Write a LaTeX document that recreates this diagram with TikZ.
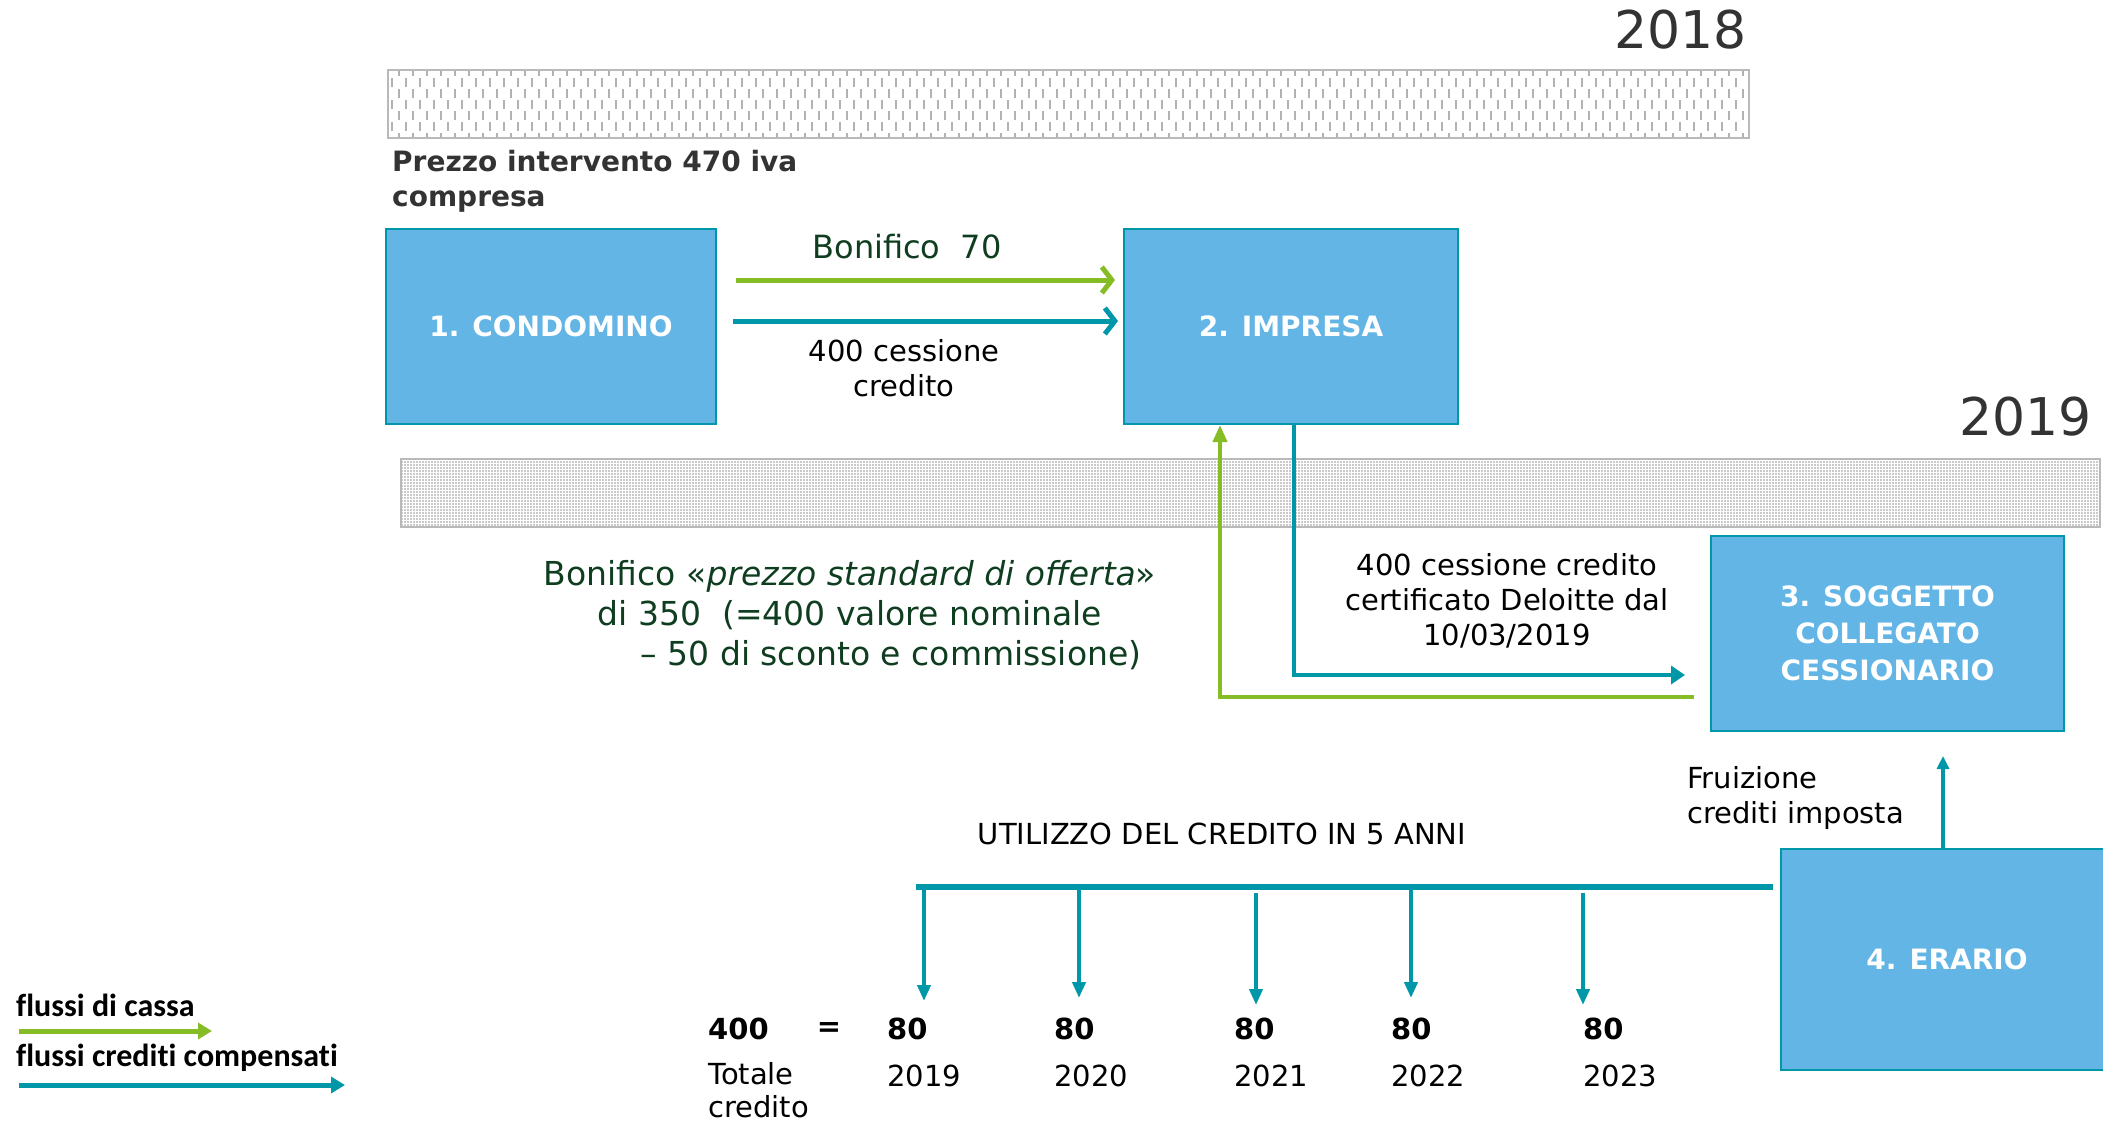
\documentclass[tikz,border=0pt]{standalone}
\usepackage{fontspec}
\setmainfont{DejaVu Sans}
\newfontfamily\legendfont[Ligatures=NoCommon]{Carlito}
\usetikzlibrary{arrows.meta,patterns.meta}

\definecolor{boxblue}{HTML}{62B5E5}
\definecolor{boxline}{HTML}{0097A9}
\definecolor{cashgreen}{HTML}{86BC25}
\definecolor{credteal}{HTML}{0097A9}
\definecolor{darkgreen}{HTML}{0F3D20}
\definecolor{yeargray}{HTML}{333333}

\newcommand\fsz[2]{\fontsize{#1}{#2}\selectfont}

\pgfdeclarepattern{
  name=vticks, type=uncolored,
  bottom left={\pgfpoint{-1pt}{-1pt}}, top right={\pgfpoint{15pt}{23pt}},
  tile size={\pgfpoint{14pt}{22pt}},
  code={
    \pgfsetlinewidth{1.3pt}
    \pgfpathmoveto{\pgfpoint{0pt}{1pt}}\pgfpathlineto{\pgfpoint{0pt}{10pt}}
    \pgfpathmoveto{\pgfpoint{7pt}{12pt}}\pgfpathlineto{\pgfpoint{7pt}{21pt}}
    \pgfusepath{stroke}
  }
}

\tikzset{
  party/.style={draw=boxline, line width=2pt, fill=boxblue, text=white, align=center,
    font=\fsz{28}{37}\bfseries, minimum width=330pt, minimum height=195pt, inner sep=0pt},
  note/.style={font=\fsz{29}{35}, align=center, inner sep=0pt},
  greennote/.style={note, text=darkgreen, font=\fsz{32}{39}},
  year/.style={font=\fsz{52}{60}, text=yeargray, inner sep=0pt},
  amount/.style={font=\fsz{29}{35}\bfseries, inner sep=0pt},
  legend/.style={font=\legendfont\fsz{32}{36}\bfseries, inner sep=0pt},
  band/.style={draw=gray!55, line width=2pt},
  cash/.style={cashgreen, line width=5pt, -{Straight Barb[length=10pt,width=26pt]}},
  credit/.style={credteal, line width=5pt, -{Straight Barb[length=10pt,width=26pt]}},
  cashback/.style={cashgreen, line width=4pt, -{Triangle[length=17pt,width=14pt]}},
  creditback/.style={credteal, line width=4.5pt, -{Triangle[length=14pt,width=18pt]}},
  creditup/.style={credteal, line width=4pt, -{Triangle[length=13pt,width=12pt]}},
  tline/.style={credteal, line width=6pt},
  yearflow/.style={credteal, line width=4pt, -{Triangle[length=16pt,width=13pt]}},
  legcash/.style={cashgreen, line width=5pt, -{Triangle[length=14pt,width=16pt]}},
  legcredit/.style={credteal, line width=5pt, -{Triangle[length=14pt,width=16pt]}}
}

\begin{document}
\begin{tikzpicture}[x=1pt,y=-1pt]
  \useasboundingbox (0,0) rectangle (2103,1122);

  % year bands
  \draw[band, pattern=vticks, pattern color=gray!60] (388,70) rectangle (1749,138);
  \node[year, anchor=east] (y2018) at (1747,30) {2018};
  \draw[band, pattern={Dots[distance=3pt,radius=0.8pt]}, pattern color=gray!85]
    (401,459) rectangle (2100,527);
  \node[year, anchor=east] (y2019) at (2092,417) {2019};

  % parties
  \node[party] (condo) at (551,326.5) {1. CONDOMINO};
  \node[party, minimum width=334pt] (impresa) at (1291,326.5) {2. IMPRESA};
  \node[party, minimum width=353pt] (cess) at (1887.5,633.5) {3. SOGGETTO\\COLLEGATO\\CESSIONARIO};
  \node[party, minimum width=332pt, minimum height=221pt] (erario) at (1947,959.5) {4. ERARIO};

  % labels
  \node[note, anchor=north west, align=left, font=\fsz{28}{35}\bfseries, text=yeargray]
    (prezzo) at (392,150) {Prezzo intervento 470 iva\\compresa};
  \node[greennote] (bon70) at (907,247) {Bonifico~~70};
  \node[note] (cess400) at (904,368) {400 cessione\\credito};
  \node[greennote, font=\fsz{33}{40}] (bon350) at (850,615)
    {Bonifico «\textit{prezzo standard di offerta}»\\di 350~~(=400 valore nominale\\\hspace*{82pt}– 50 di sconto e commissione)};
  \node[note] (certif) at (1507,601) {400 cessione credito\\certificato Deloitte dal\\10/03/2019};
  \node[note, anchor=north west, align=left] (fruiz) at (1687,766) {Fruizione\\crediti imposta};
  \node[note] (utilizzo) at (1222,834) {UTILIZZO DEL CREDITO IN 5 ANNI};

  % flows
  \draw[cash, shorten <=19pt, shorten >=8pt] ([yshift=46.5pt]condo.east) -- ([yshift=46.5pt]impresa.west);
  \draw[credit, shorten <=16pt, shorten >=5pt] ([yshift=5.5pt]condo.east) -- ([yshift=5.5pt]impresa.west);
  \draw[creditback] ([xshift=3pt]impresa.south) |- ([xshift=-25pt,yshift=-41.5pt]cess.west);
  \draw[cashback] ([xshift=-16pt,yshift=-63.5pt]cess.west) -| ([xshift=-71pt]impresa.south);
  \draw[creditup, shorten >=24pt] ([xshift=-4pt]erario.north) -- ([xshift=55.5pt]cess.south);

  % use of the credit over five years
  \coordinate (tl) at (916,887);
  \coordinate (tr) at ([xshift=-7pt,yshift=72.5pt]erario.west);
  \draw[tline] (tl) -- (tr);
  \foreach \i/\x/\ys/\ye in {1/924/887/1001, 2/1079/887/998, 3/1256/893/1005, 4/1411/887/998, 5/1583/893/1005} {
    \coordinate (top\i) at (\x,\ys);
    \coordinate (tip\i) at (\x,\ye);
    \draw[yearflow] (top\i) -- (tip\i);
  }

  \node[amount, anchor=west] (tot) at (708,1029) {400};
  \node[amount] (eq) at (829,1029) {=};
  \foreach \i/\x/\yr in {1/887/2019, 2/1054/2020, 3/1234/2021, 4/1391/2022, 5/1583/2023} {
    \node[amount, anchor=west] (q\i) at (\x,1029) {80};
    \node[note, anchor=west] (yr\i) at (\x,1076) {\yr};
  }
  \node[note, anchor=north west, align=left, font=\fsz{29}{33}] (totlab) at (708,1062) {Totale\\credito};

  % legend
  \node[legend, anchor=west] (lcash) at (16,1005) {flussi di cassa};
  \coordinate (lc0) at (19,1031);
  \coordinate (lc1) at (212,1031);
  \draw[legcash] (lc0) -- (lc1);
  \node[legend, anchor=west] (lcred) at (16,1058) {flussi crediti compensati};
  \coordinate (lk0) at (19,1085);
  \coordinate (lk1) at (345,1085);
  \draw[legcredit] (lk0) -- (lk1);
\end{tikzpicture}
\end{document}
